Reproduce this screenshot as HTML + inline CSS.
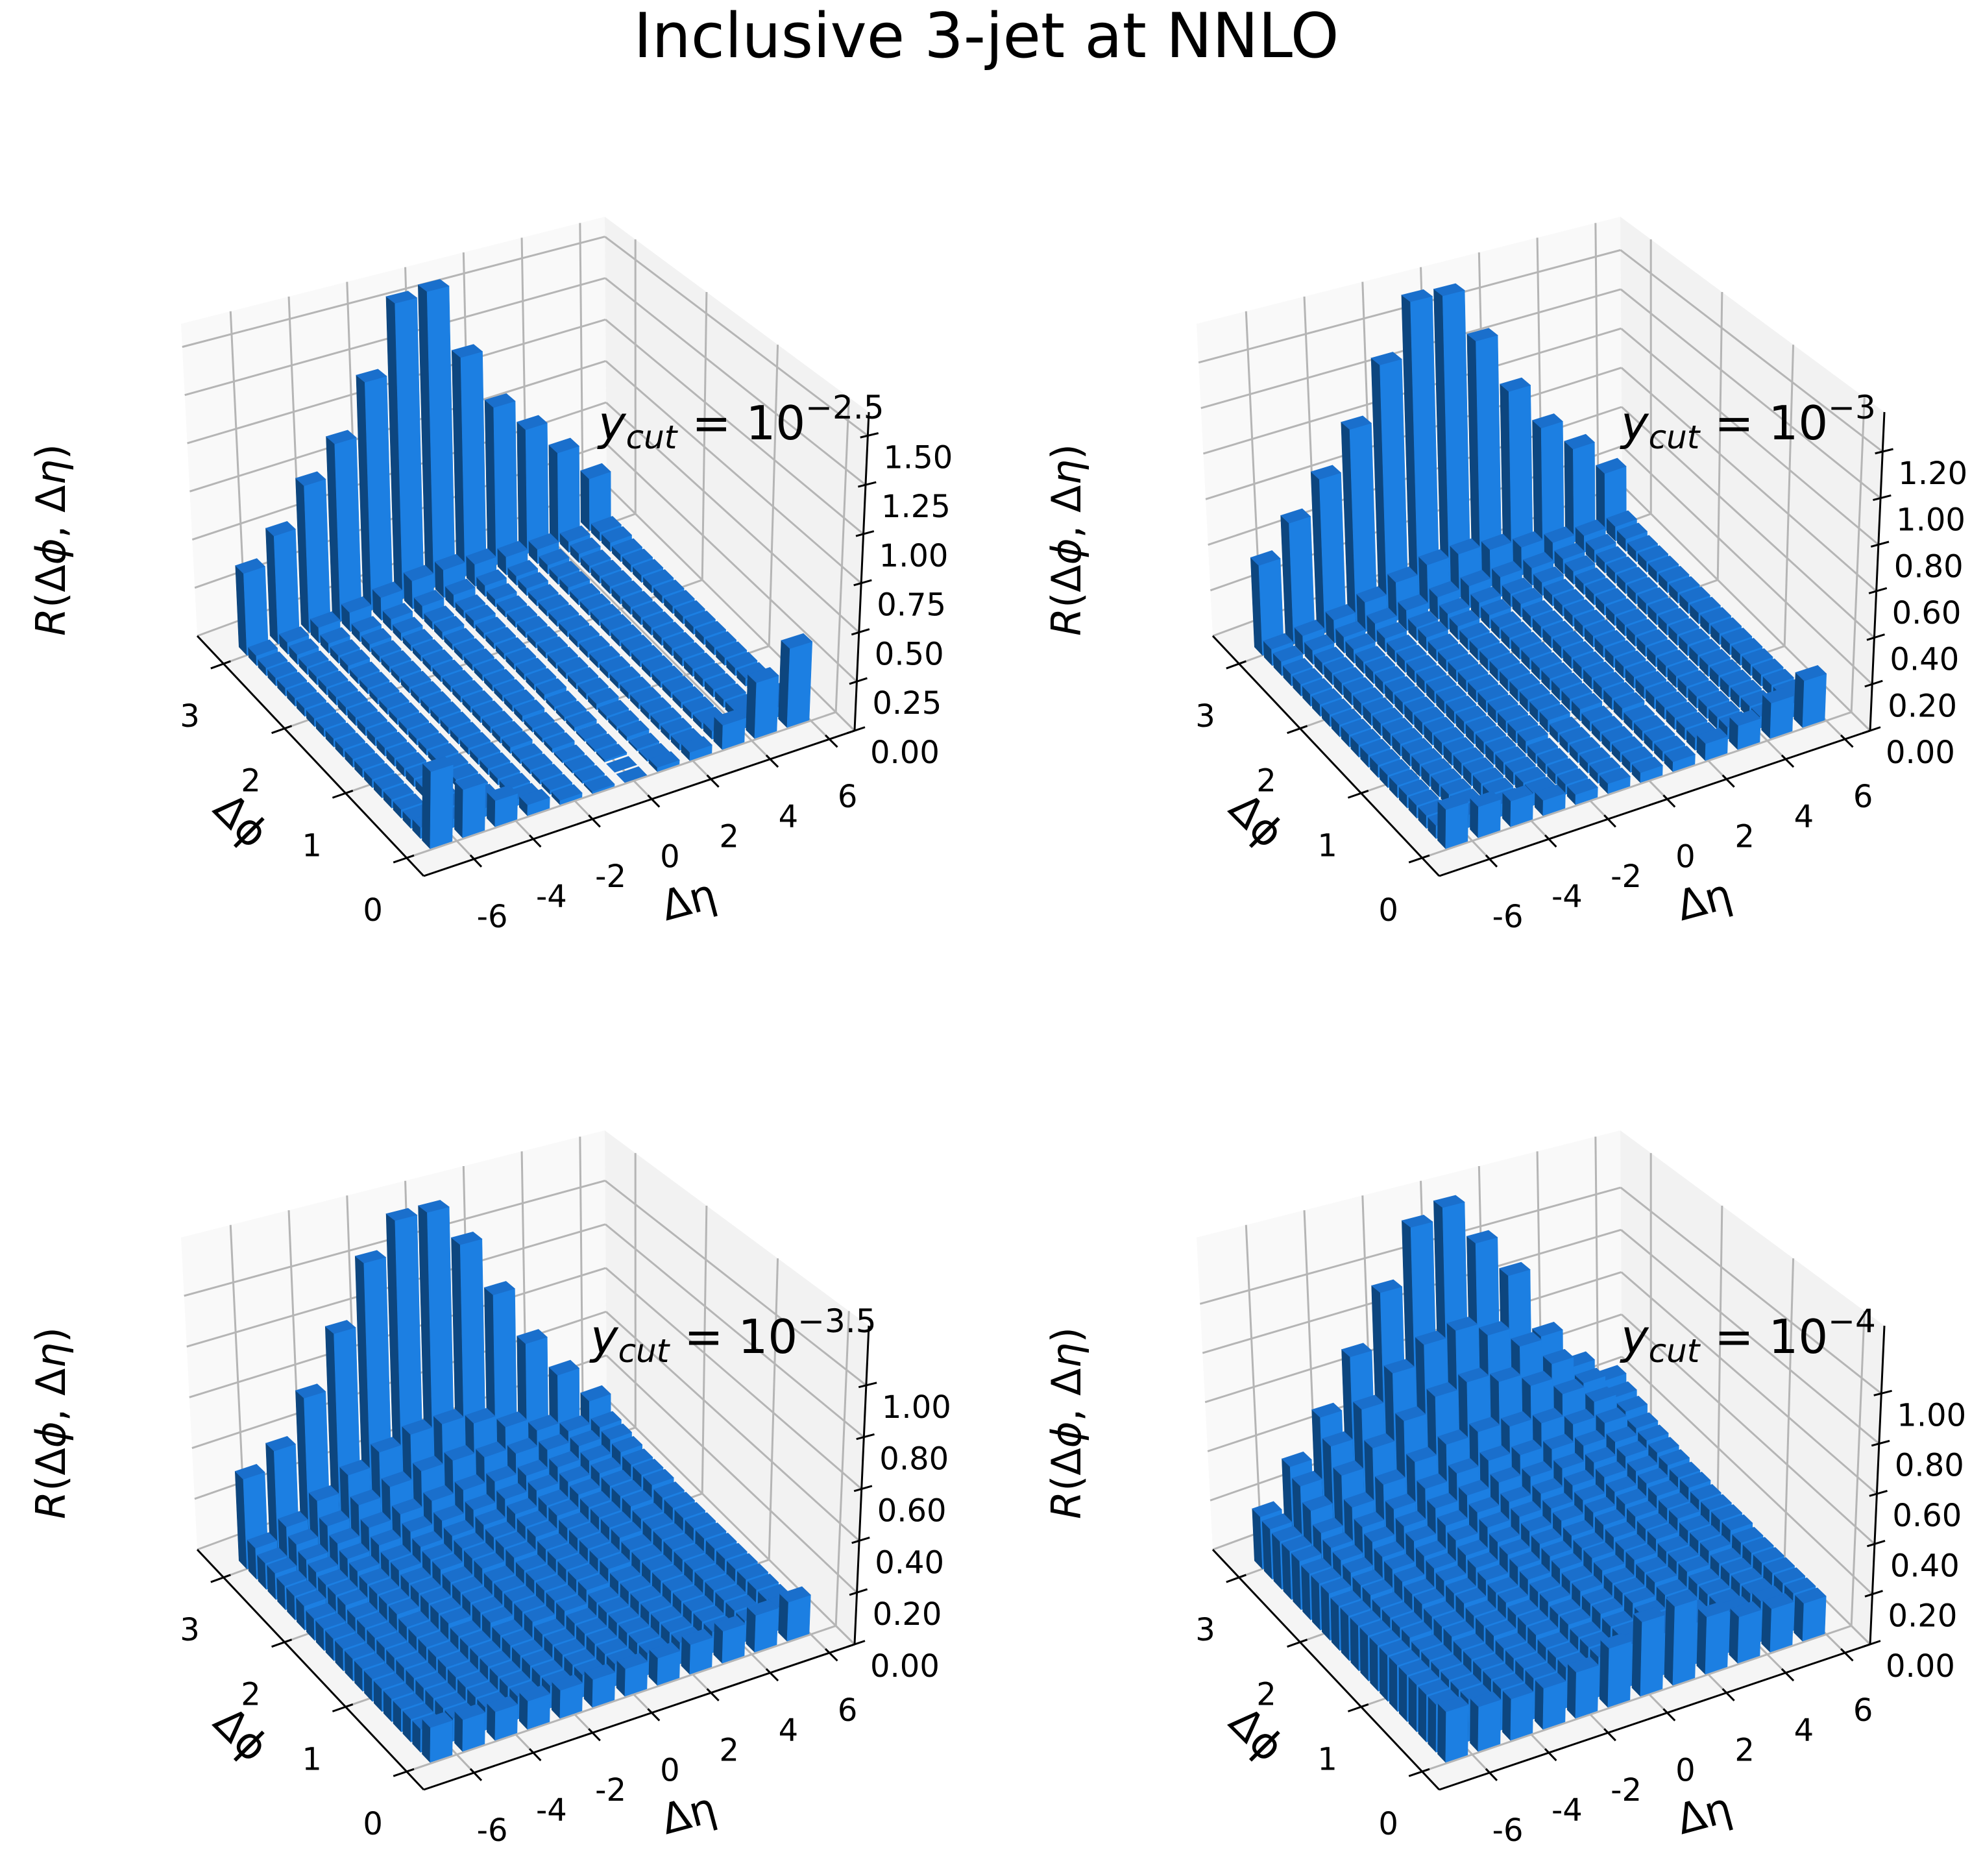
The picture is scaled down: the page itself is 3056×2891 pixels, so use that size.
<!DOCTYPE html>
<html>
<head>
<meta charset="utf-8">
<style>
html,body{margin:0;padding:0;background:#fff;}
svg{display:block;}
text{font-family:"DejaVu Sans","Liberation Sans",sans-serif;fill:#000;}
</style>
</head>
<body>
<svg id="fig" width="3056" height="2891" viewBox="0 0 3056 2891" xmlns="http://www.w3.org/2000/svg">
<rect x="0" y="0" width="3056" height="2891" fill="#ffffff"/>
<text x="1520" y="88" font-size="95" text-anchor="middle">Inclusive 3-jet at NNLO</text>
</svg>
<script>
// ---- data ----
const etaPos = [-6.5,-5.4,-4.3,-3.2,-2.1,-1.0,0.1,1.2,2.3,3.4,4.5,5.6];
const phiPos = [0.079,0.236,0.393,0.550,0.707,0.864,1.021,1.178,1.335,1.492,1.649,1.806,1.963,2.121,2.278,2.435,2.592,2.749,2.906,3.063];
const etaTicks = [-6,-4,-2,0,2,4,6];
const etaTickLabels = ['-6','-4','-2','0','2','4','6'];
const phiTicks = [0,1,2,3];
const phiTickLabels = ['0','1','2','3'];

const heights1 = [
[0.35,0.05,0.04,0.04,0.04,0.04,0.04,0.04,0.04,0.04,0.04,0.04,0.04,0.04,0.04,0.04,0.04,0.04,0.05,0.42],
[0.22,0.04,0.04,0.04,0.04,0.04,0.04,0.04,0.04,0.04,0.04,0.04,0.04,0.04,0.04,0.04,0.04,0.05,0.06,0.56],
[0.12,0.04,0.03,0.03,0.03,0.03,0.03,0.03,0.03,0.03,0.03,0.03,0.03,0.03,0.03,0.04,0.04,0.05,0.08,0.77],
[0.05,0.03,0.03,0.03,0.03,0.03,0.03,0.03,0.03,0.03,0.03,0.03,0.03,0.03,0.03,0.03,0.04,0.05,0.10,0.94],
[0.02,0.02,0.02,0.02,0.02,0.03,0.03,0.03,0.03,0.03,0.03,0.03,0.03,0.03,0.03,0.03,0.04,0.06,0.12,1.22],
[0.01,0.01,0.01,0.01,0.02,0.02,0.02,0.03,0.03,0.03,0.03,0.03,0.03,0.03,0.03,0.04,0.04,0.07,0.15,1.60],
[0.00,0.00,0.01,0.01,0.01,0.02,0.02,0.02,0.03,0.03,0.03,0.03,0.03,0.03,0.03,0.04,0.04,0.07,0.15,1.62],
[0.02,0.01,0.01,0.02,0.02,0.02,0.03,0.03,0.03,0.03,0.03,0.03,0.03,0.03,0.03,0.03,0.04,0.06,0.12,1.21],
[0.04,0.03,0.03,0.03,0.03,0.03,0.03,0.03,0.03,0.03,0.03,0.03,0.03,0.03,0.03,0.03,0.04,0.05,0.10,0.88],
[0.12,0.04,0.03,0.03,0.03,0.03,0.03,0.03,0.03,0.03,0.03,0.03,0.03,0.03,0.03,0.04,0.04,0.05,0.08,0.70],
[0.28,0.05,0.04,0.04,0.04,0.04,0.04,0.04,0.04,0.04,0.04,0.04,0.04,0.04,0.04,0.04,0.04,0.05,0.06,0.51],
[0.40,0.05,0.04,0.04,0.04,0.04,0.04,0.04,0.04,0.04,0.04,0.04,0.04,0.04,0.04,0.04,0.04,0.05,0.05,0.30]
];
const heights2 = [
[0.15,0.05,0.05,0.05,0.05,0.05,0.05,0.05,0.05,0.05,0.05,0.05,0.05,0.05,0.05,0.05,0.05,0.06,0.07,0.39],
[0.12,0.05,0.05,0.05,0.05,0.05,0.05,0.05,0.05,0.05,0.05,0.05,0.05,0.05,0.05,0.05,0.05,0.06,0.08,0.53],
[0.10,0.05,0.05,0.05,0.05,0.05,0.05,0.05,0.05,0.05,0.05,0.05,0.05,0.05,0.05,0.05,0.06,0.07,0.10,0.68],
[0.06,0.05,0.05,0.05,0.05,0.05,0.05,0.05,0.05,0.05,0.05,0.05,0.05,0.05,0.05,0.05,0.06,0.08,0.13,0.86],
[0.04,0.04,0.04,0.04,0.04,0.05,0.05,0.05,0.05,0.05,0.05,0.05,0.05,0.05,0.05,0.06,0.06,0.09,0.17,1.11],
[0.04,0.04,0.04,0.04,0.04,0.04,0.05,0.05,0.05,0.05,0.05,0.05,0.05,0.05,0.05,0.06,0.07,0.10,0.20,1.36],
[0.04,0.04,0.04,0.04,0.04,0.04,0.05,0.05,0.05,0.05,0.05,0.05,0.05,0.05,0.05,0.06,0.07,0.10,0.20,1.35],
[0.04,0.04,0.04,0.04,0.04,0.05,0.05,0.05,0.05,0.05,0.05,0.05,0.05,0.05,0.05,0.06,0.06,0.09,0.17,1.10],
[0.07,0.05,0.05,0.05,0.05,0.05,0.05,0.05,0.05,0.05,0.05,0.05,0.05,0.05,0.05,0.05,0.06,0.08,0.13,0.82],
[0.10,0.05,0.05,0.05,0.05,0.05,0.05,0.05,0.05,0.05,0.05,0.05,0.05,0.05,0.05,0.05,0.06,0.07,0.10,0.60],
[0.15,0.05,0.05,0.05,0.05,0.05,0.05,0.05,0.05,0.05,0.05,0.05,0.05,0.05,0.05,0.05,0.05,0.06,0.08,0.45],
[0.20,0.06,0.05,0.05,0.05,0.05,0.05,0.05,0.05,0.05,0.05,0.05,0.05,0.05,0.05,0.05,0.05,0.06,0.07,0.28]
];
const heights3 = [
[0.12,0.08,0.08,0.08,0.08,0.08,0.08,0.08,0.08,0.08,0.08,0.08,0.08,0.09,0.09,0.09,0.10,0.10,0.12,0.35],
[0.11,0.08,0.08,0.08,0.08,0.08,0.08,0.08,0.08,0.08,0.08,0.08,0.09,0.09,0.09,0.10,0.11,0.13,0.16,0.42],
[0.10,0.08,0.08,0.08,0.08,0.08,0.08,0.08,0.08,0.08,0.09,0.09,0.09,0.09,0.10,0.11,0.13,0.16,0.22,0.59],
[0.10,0.08,0.08,0.08,0.08,0.08,0.08,0.08,0.09,0.09,0.09,0.09,0.09,0.10,0.10,0.12,0.15,0.20,0.28,0.81],
[0.10,0.08,0.08,0.08,0.08,0.08,0.08,0.09,0.09,0.09,0.09,0.09,0.10,0.10,0.11,0.13,0.16,0.23,0.33,1.06],
[0.10,0.08,0.08,0.08,0.08,0.08,0.09,0.09,0.09,0.09,0.09,0.10,0.10,0.10,0.11,0.13,0.17,0.25,0.36,1.20],
[0.10,0.08,0.08,0.08,0.08,0.08,0.09,0.09,0.09,0.09,0.09,0.10,0.10,0.10,0.11,0.13,0.17,0.25,0.36,1.20],
[0.10,0.08,0.08,0.08,0.08,0.08,0.08,0.09,0.09,0.09,0.09,0.09,0.10,0.10,0.11,0.13,0.16,0.22,0.32,1.03],
[0.11,0.08,0.08,0.08,0.08,0.08,0.08,0.08,0.09,0.09,0.09,0.09,0.09,0.10,0.10,0.12,0.14,0.19,0.26,0.78],
[0.12,0.08,0.08,0.08,0.08,0.08,0.08,0.08,0.08,0.08,0.09,0.09,0.09,0.09,0.10,0.11,0.13,0.16,0.20,0.53],
[0.14,0.08,0.08,0.08,0.08,0.08,0.08,0.08,0.08,0.08,0.08,0.08,0.09,0.09,0.09,0.10,0.11,0.13,0.15,0.35],
[0.15,0.09,0.08,0.08,0.08,0.08,0.08,0.08,0.08,0.08,0.08,0.08,0.08,0.09,0.09,0.09,0.10,0.11,0.12,0.19]
];
const heights4 = [
[0.18,0.17,0.17,0.17,0.17,0.17,0.17,0.17,0.17,0.17,0.17,0.17,0.18,0.18,0.18,0.19,0.19,0.19,0.20,0.21],
[0.16,0.15,0.15,0.15,0.15,0.15,0.15,0.16,0.16,0.16,0.16,0.17,0.17,0.18,0.19,0.20,0.22,0.27,0.33,0.37],
[0.15,0.15,0.15,0.15,0.15,0.15,0.16,0.16,0.16,0.17,0.17,0.18,0.19,0.20,0.22,0.24,0.28,0.37,0.45,0.53],
[0.15,0.15,0.15,0.15,0.15,0.16,0.16,0.16,0.17,0.17,0.18,0.19,0.20,0.22,0.24,0.27,0.33,0.44,0.56,0.74],
[0.17,0.15,0.15,0.15,0.16,0.16,0.16,0.17,0.17,0.18,0.19,0.20,0.22,0.24,0.27,0.31,0.38,0.51,0.67,0.97],
[0.22,0.15,0.15,0.15,0.16,0.16,0.17,0.17,0.18,0.19,0.20,0.21,0.23,0.25,0.28,0.33,0.41,0.57,0.75,1.21],
[0.28,0.16,0.15,0.15,0.16,0.16,0.17,0.17,0.18,0.19,0.20,0.21,0.23,0.25,0.29,0.34,0.42,0.59,0.77,1.26],
[0.30,0.16,0.15,0.15,0.16,0.16,0.16,0.17,0.18,0.18,0.19,0.21,0.22,0.24,0.27,0.32,0.40,0.55,0.71,1.07],
[0.22,0.16,0.15,0.15,0.15,0.16,0.16,0.17,0.17,0.18,0.19,0.20,0.21,0.23,0.26,0.30,0.37,0.49,0.62,0.89],
[0.18,0.16,0.15,0.15,0.15,0.16,0.16,0.16,0.17,0.17,0.18,0.19,0.20,0.22,0.24,0.27,0.32,0.41,0.50,0.58],
[0.17,0.16,0.15,0.15,0.15,0.15,0.16,0.16,0.16,0.17,0.17,0.18,0.19,0.20,0.22,0.24,0.28,0.33,0.37,0.40],
[0.15,0.15,0.15,0.15,0.15,0.15,0.15,0.16,0.16,0.16,0.16,0.17,0.17,0.18,0.19,0.20,0.21,0.24,0.26,0.29]
];
const zTicks1 = [0,0.25,0.5,0.75,1.0,1.25,1.5];
const zTickLabels1 = ['0.00','0.25','0.50','0.75','1.00','1.25','1.50'];
const zTicks2 = [0,0.2,0.4,0.6,0.8,1.0,1.2];
const zTickLabels2 = ['0.00','0.20','0.40','0.60','0.80','1.00','1.20'];
const zTicks3 = [0,0.2,0.4,0.6,0.8,1.0];
const zTickLabels3 = ['0.00','0.20','0.40','0.60','0.80','1.00'];
const zTicks4 = [0,0.2,0.4,0.6,0.8,1.0];
const zTickLabels4 = ['0.00','0.20','0.40','0.60','0.80','1.00'];
const ycutExponents = ['−2.5','−3','−3.5','−4'];

// ---- geometry ----
const EMIN=-7.7, EMAX=6.85, PMIN=-0.28, PMAX=3.43;
const FL={L:[304,980],B:[935,748],F:[653,1350],R:[1317,1126]};
const TP={L:[279,499],B:[932,334],F:[660,790],R:[1339,635]};
const NS='http://www.w3.org/2000/svg';
const svg=document.getElementById('fig');

const panels=[
 {ox:0,oy:0,zmax:1.62,h:heights1,zt:zTicks1,zl:zTickLabels1,exp:ycutExponents[0],lx:922,ry:832,name:'panel-ycut-2p5'},
 {ox:1565,oy:0,zmax:1.37,h:heights2,zt:zTicks2,zl:zTickLabels2,exp:ycutExponents[1],lx:2498,ry:832,name:'panel-ycut-3'},
 {ox:0,oy:1408,zmax:1.23,h:heights3,zt:zTicks3,zl:zTickLabels3,exp:ycutExponents[2],lx:910,ry:2193,name:'panel-ycut-3p5'},
 {ox:1565,oy:1408,zmax:1.27,h:heights4,zt:zTicks4,zl:zTickLabels4,exp:ycutExponents[3],lx:2498,ry:2193,name:'panel-ycut-4'}
];

function bil(c,u,t,k){return c.L[k]*(1-u)*(1-t)+c.B[k]*u*(1-t)+c.F[k]*(1-u)*t+c.R[k]*u*t;}
function proj(P,e,f,z){
 const u=(e-EMIN)/(EMAX-EMIN), t=(PMAX-f)/(PMAX-PMIN), w=z/P.zmax;
 const fx=bil(FL,u,t,0), fy=bil(FL,u,t,1), tx=bil(TP,u,t,0), ty=bil(TP,u,t,1);
 return [fx+(tx-fx)*w+P.ox, fy+(ty-fy)*w+P.oy];
}
function pts(arr){return arr.map(p=>p[0].toFixed(1)+','+p[1].toFixed(1)).join(' ');}
function mk(tag,parent){const el=document.createElementNS(NS,tag);parent.appendChild(el);return el;}
function line(g,a,b,col,w){const l=mk('line',g);l.setAttribute('x1',a[0]);l.setAttribute('y1',a[1]);l.setAttribute('x2',b[0]);l.setAttribute('y2',b[1]);l.setAttribute('stroke',col);l.setAttribute('stroke-width',w);return l;}

panels.forEach((P,pi)=>{
 const g=mk('g',svg);
 
 
 const zmax=P.zmax;
 const leftPane=mk('polygon',g);
 leftPane.setAttribute('points',pts([proj(P,EMIN,PMAX,0),proj(P,EMAX,PMAX,0),proj(P,EMAX,PMAX,zmax),proj(P,EMIN,PMAX,zmax)]));
 leftPane.setAttribute('fill','#f9f9f9');
 
 
 const rightPane=mk('polygon',g);
 rightPane.setAttribute('points',pts([proj(P,EMAX,PMAX,0),proj(P,EMAX,PMIN,0),proj(P,EMAX,PMIN,zmax),proj(P,EMAX,PMAX,zmax)]));
 rightPane.setAttribute('fill','#f2f2f2');
 
 
 const floorPane=mk('polygon',g);
 floorPane.setAttribute('points',pts([proj(P,EMIN,PMAX,0),proj(P,EMAX,PMAX,0),proj(P,EMAX,PMIN,0),proj(P,EMIN,PMIN,0)]));
 floorPane.setAttribute('fill','#f5f5f5');
 
 
 const grid=mk('g',g);
 
 
 const GC='#b5b5b5';
 etaTicks.forEach(e=>{
  line(grid,proj(P,e,PMIN,0),proj(P,e,PMAX,0),GC,3);
  line(grid,proj(P,e,PMAX,0),proj(P,e,PMAX,zmax),GC,3);
 });
 phiTicks.forEach(f=>{
  line(grid,proj(P,EMIN,f,0),proj(P,EMAX,f,0),GC,3);
  line(grid,proj(P,EMAX,f,0),proj(P,EMAX,f,zmax),GC,3);
 });
 P.zt.forEach(z=>{
  line(grid,proj(P,EMIN,PMAX,z),proj(P,EMAX,PMAX,z),GC,3);
  line(grid,proj(P,EMAX,PMAX,z),proj(P,EMAX,PMIN,z),GC,3);
 });
 const ax=mk('g',g);
 
 
 line(ax,proj(P,EMIN,PMAX,0),proj(P,EMIN,PMIN,0),'#000',3);
 line(ax,proj(P,EMIN,PMIN,0),proj(P,EMAX,PMIN,0),'#000',3);
 line(ax,proj(P,EMAX,PMIN,0),proj(P,EMAX,PMIN,zmax),'#000',3);
 etaTicks.forEach((e,k)=>{
  line(ax,proj(P,e,PMIN+0.06,0),proj(P,e,PMIN-0.12,0),'#000',3);
  const p=proj(P,e,PMIN,0);
  const t=mk('text',ax);
  t.setAttribute('x',(p[0]+28).toFixed(1));t.setAttribute('y',(p[1]+105).toFixed(1));
  t.setAttribute('font-size','48');t.setAttribute('text-anchor','middle');
  t.textContent=etaTickLabels[k];
  
  
 });
 phiTicks.forEach((f,k)=>{
  line(ax,proj(P,EMIN+0.25,f,0),proj(P,EMIN-0.45,f,0),'#000',3);
  const p=proj(P,EMIN,f,0);
  const t=mk('text',ax);
  t.setAttribute('x',(p[0]-52).toFixed(1));t.setAttribute('y',(p[1]+97).toFixed(1));
  t.setAttribute('font-size','48');t.setAttribute('text-anchor','middle');
  t.textContent=phiTickLabels[k];
  
  
 });
 P.zt.forEach((z,k)=>{
  line(ax,proj(P,EMAX-0.25,PMIN,z),proj(P,EMAX+0.35,PMIN,z),'#000',3);
  const p=proj(P,EMAX,PMIN,z);
  const t=mk('text',ax);
  t.setAttribute('x',(p[0]+24).toFixed(1));t.setAttribute('y',(p[1]+50).toFixed(1));
  t.setAttribute('font-size','48');
  t.textContent=P.zl[k];
  
  
 });
 const bars=[];
 P.h.forEach((row,i)=>row.forEach((v,j)=>bars.push({i,j,v})));
 bars.sort((a,b)=>(b.i+b.j)-(a.i+a.j));
 const bg=mk('g',g);
 
 
 const HW=0.375, HD=0.065;
 bars.forEach(b=>{
  const e=etaPos[b.i], f=phiPos[b.j], h=b.v;
  const x0=e-HW,x1=e+HW,y0=f-HD,y1=f+HD;
  const bar=mk('g',bg);
  
  
  if(h>0.001){
   const lf=mk('polygon',bar);
   lf.setAttribute('points',pts([proj(P,x0,y0,0),proj(P,x0,y1,0),proj(P,x0,y1,h),proj(P,x0,y0,h)]));
   lf.setAttribute('fill','#0d467f');lf.setAttribute('stroke','#0d467f');lf.setAttribute('stroke-width','0.6');
   const ff=mk('polygon',bar);
   ff.setAttribute('points',pts([proj(P,x0,y0,0),proj(P,x1,y0,0),proj(P,x1,y0,h),proj(P,x0,y0,h)]));
   ff.setAttribute('fill','#1c7fe2');ff.setAttribute('stroke','#1c7fe2');ff.setAttribute('stroke-width','0.6');
  }
  const tf=mk('polygon',bar);
  tf.setAttribute('points',pts([proj(P,x0,y0,h),proj(P,x1,y0,h),proj(P,x1,y1,h),proj(P,x0,y1,h)]));
  tf.setAttribute('fill','#1a6fcc');tf.setAttribute('stroke','#1a6fcc');tf.setAttribute('stroke-width','0.6');
 });
 const lab=mk('g',g);
 
 
 const phiL=mk('text',lab);
 phiL.setAttribute('x',356+P.ox);phiL.setAttribute('y',1280+P.oy);
 phiL.setAttribute('font-size','64');phiL.setAttribute('text-anchor','middle');
 phiL.setAttribute('transform','rotate(45 '+(356+P.ox)+' '+(1280+P.oy)+')');
 phiL.textContent='Δϕ';
 
 
 const etaL=mk('text',lab);
 etaL.setAttribute('x',1067+P.ox);etaL.setAttribute('y',1408+P.oy);
 etaL.setAttribute('font-size','64');etaL.setAttribute('text-anchor','middle');
 etaL.setAttribute('transform','rotate(-15 '+(1067+P.ox)+' '+(1408+P.oy)+')');
 etaL.textContent='Δη';
 
 
 const rL=mk('text',lab);
 const rx=100+P.ox, ry=P.ry;
 rL.setAttribute('x',rx);rL.setAttribute('y',ry);
 rL.setAttribute('font-size','62');rL.setAttribute('text-anchor','middle');
 rL.setAttribute('transform','rotate(-90 '+rx+' '+ry+')');
 rL.innerHTML='<tspan font-style="italic">R</tspan>(Δ<tspan font-style="italic">ϕ</tspan>, Δ<tspan font-style="italic">η</tspan>)';
 
 
 const yc=mk('text',g);
 yc.setAttribute('x',P.lx);yc.setAttribute('y',677+P.oy);
 yc.setAttribute('font-size','72');
 yc.innerHTML='<tspan font-style="italic">y</tspan><tspan font-style="italic" font-size="50" dy="14">cut</tspan><tspan dy="-14"> = 10</tspan><tspan font-size="50" dy="-32">'+P.exp+'</tspan>';
 
 
});
</script>
</body>
</html>
